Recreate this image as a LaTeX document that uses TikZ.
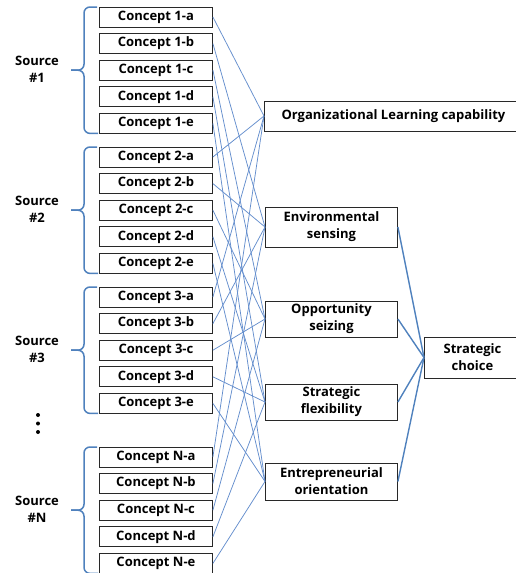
\documentclass[tikz,border=0pt]{standalone}
\usepackage{fontspec}
\setmainfont{Open Sans}
\definecolor{linkblue}{RGB}{100,142,205}
\definecolor{mainblue}{RGB}{79,129,189}
\definecolor{boxline}{RGB}{40,40,40}
\begin{document}
\begin{tikzpicture}[x=1pt,y=-1pt,
  concept/.style={draw=boxline, line width=0.9pt, minimum width=113pt, minimum height=20pt,
    inner sep=0pt, font=\bfseries\fontsize{13}{15}\selectfont, anchor=west},
  construct/.style={draw=boxline, line width=0.9pt, inner sep=0pt, align=center,
    font=\bfseries\fontsize{13}{17}\selectfont, anchor=west},
  link/.style={draw=linkblue, line width=0.75pt},
  mainlink/.style={draw=mainblue, line width=1.4pt},
  brace/.style={draw=mainblue, line width=1.5pt, rounded corners=6pt},
  src/.style={align=center, inner sep=0pt, font=\bfseries\fontsize{13}{17}\selectfont},
  dot/.style={fill=black}]
\path[use as bounding box, clip] (0,0) rectangle (516,573);

% concept boxes, braces, source labels
\foreach \g/\gy in {1/17,2/157,3/297,N/457}{
  \foreach \l [count=\i from 0] in {a,b,c,d,e}{
    \node[concept] (c\g\l) at (99,{\gy+26.6*\i}) {Concept \g-\l};
  }
  \draw[brace] (97,{\gy-10}) -- (84,{\gy-10}) -- (84,{\gy+53.2}) -- (71,{\gy+53.2});
  \draw[brace] (98,{\gy+116.4}) -- (84,{\gy+116.4}) -- (84,{\gy+53.2}) -- (71,{\gy+53.2});
  \node[src] (s\g) at (37,{\gy+52}) {Source\\\#\g};
}

% vertical dots
\fill[dot] (38,415) circle (2pt);
\fill[dot] (38,423.5) circle (2pt);
\fill[dot] (38,432) circle (2pt);

% constructs
\node[construct, minimum width=258pt, minimum height=30pt] (olc) at (264,116) {Organizational Learning capability};
\node[construct, minimum width=132pt, minimum height=40pt] (es) at (265,227) {Environmental\\sensing};
\node[construct, minimum width=132pt, minimum height=36pt] (os) at (265,319) {Opportunity\\seizing};
\node[construct, minimum width=132pt, minimum height=36pt] (sf) at (265,402) {Strategic\\flexibility};
\node[construct, minimum width=132pt, minimum height=37pt] (eo) at (265,481.5) {Entrepreneurial\\orientation};
\node[construct, minimum width=96pt, minimum height=41pt] (sc) at (424,357.5) {Strategic\\choice};

% concept to construct links
\foreach \l/\t in {a/olc,b/es,c/os,d/sf,e/eo}{
  \foreach \g in {1,2,3,N}{
    \draw[link] (c\g\l.east) -- (\t.west);
  }
}

% constructs to strategic choice
\foreach \t in {es,os,sf,eo}{
  \draw[mainlink] (\t.east) -- (sc.west);
}
\end{tikzpicture}
\end{document}
